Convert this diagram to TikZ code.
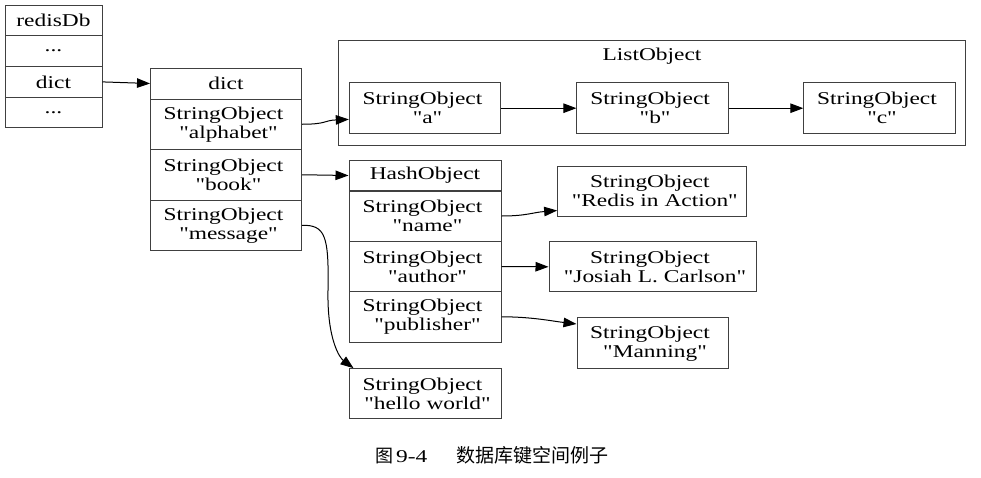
\documentclass[tikz,border=0pt]{standalone}
\usepackage{fontspec}
\newfontfamily\gv[FakeStretch=1.3]{Liberation Serif}
\newfontfamily\cjk{Noto Sans CJK SC}
\usetikzlibrary{arrows.meta,calc}
\newcommand\strobj[1]{StringObject\kern5pt\\\kern5pt"#1"}
\begin{document}
\begin{tikzpicture}[x=1pt,y=-1pt,
  cell/.style={draw=black!75, line width=1pt, rectangle, inner sep=0pt, align=center,
    font=\gv\fontsize{18}{19}\selectfont, text=black},
  arr/.style={line width=1pt, draw=black, -{Triangle[length=13pt,width=9.5pt]}}]
\useasboundingbox (0,0) rectangle (981,477);
% redisDb
\node[cell, minimum width=97pt, minimum height=30.75pt] (r0) at (53.5,20.4) {redisDb};
\node[cell, minimum width=97pt, minimum height=30.75pt] (r1) at (53.5,51.1) {...};
\node[cell, minimum width=97pt, minimum height=30.75pt] (r2) at (53.5,81.9) {dict};
\node[cell, minimum width=97pt, minimum height=30.75pt] (r3) at (53.5,112.6) {...};
% dict
\node[cell, minimum width=151pt, minimum height=31pt] (d0) at (226,83.5) {dict};
\node[cell, minimum width=151pt, minimum height=50.5pt] (d1) at (226,124.25) {\strobj{alphabet}};
\node[cell, minimum width=151pt, minimum height=50.5pt] (d2) at (226,174.75) {\strobj{book}};
\node[cell, minimum width=151pt, minimum height=50.5pt] (d3) at (226,225.25) {\strobj{message}};
% ListObject cluster
\node[cell, minimum width=626.7pt, minimum height=105pt] (lst) at (652.3,93.2) {};
\node[anchor=base, inner sep=0pt, font=\gv\fontsize{18}{19}\selectfont] (lstlbl) at (652,60.7) {ListObject};
\node[cell, minimum width=151.4pt, minimum height=51pt] (la) at (425,108.2) {\strobj{a}};
\node[cell, minimum width=151.4pt, minimum height=51pt] (lb) at (652.6,108.2) {\strobj{b}};
\node[cell, minimum width=151.4pt, minimum height=51pt] (lc) at (879.5,108.2) {\strobj{c}};
% HashObject
\node[cell, minimum width=152pt, minimum height=31pt] (h0) at (425,175.5) {HashObject};
\node[cell, minimum width=152pt, minimum height=50.4pt] (h1) at (425,216) {\strobj{name}};
\node[cell, minimum width=152pt, minimum height=50.4pt] (h2) at (425,266.5) {\strobj{author}};
\node[cell, minimum width=152pt, minimum height=50.4pt] (h3) at (425,316.8) {\strobj{publisher}};
% values
\node[cell, minimum width=189.3pt, minimum height=50pt] (ra) at (652.3,191) {\strobj{Redis in Action}};
\node[cell, minimum width=207pt, minimum height=50.3pt] (jc) at (652.5,266.8) {\strobj{Josiah L. Carlson}};
\node[cell, minimum width=151pt, minimum height=51pt] (mn) at (652.5,343.2) {\strobj{Manning}};
\node[cell, minimum width=152pt, minimum height=50.3pt] (hw) at (425,393.8) {\strobj{hello world}};
% caption
\node[anchor=west, inner sep=0pt, font=\gv\fontsize{18}{19}\selectfont] (cap) at (375,455)
  {{\cjk\fontsize{18}{19}\selectfont 图}\kern3pt 9-4\kern29pt{\cjk\fontsize{19}{19}\selectfont 数据库键空间例子}};
% edges
\draw[arr] (r2.east) -- (d0.west);
\draw[arr] (d1.east) .. controls +(25,0) and +(-25,1) .. ($(la.west)+(0,11.2)$);
\draw[arr] (d2.east) -- (h0.west);
\draw[arr] (d3.east) .. controls (325,225) and (329,235) .. (328,290)
  .. controls (327,340) and (340,358) .. ($(hw.north west)+(5,0)$);
\draw[arr] (la.east) -- (lb.west);
\draw[arr] (lb.east) -- (lc.west);
\draw[arr] (h1.east) .. controls +(25,0) and +(-25,2) .. ($(ra.west)+(0,19.5)$);
\draw[arr] (h2.east) -- (jc.west);
\draw[arr] (h3.east) .. controls +(30,0) and +(-25,-3) .. ($(mn.west)+(0,-19.2)$);
\end{tikzpicture}
\end{document}
